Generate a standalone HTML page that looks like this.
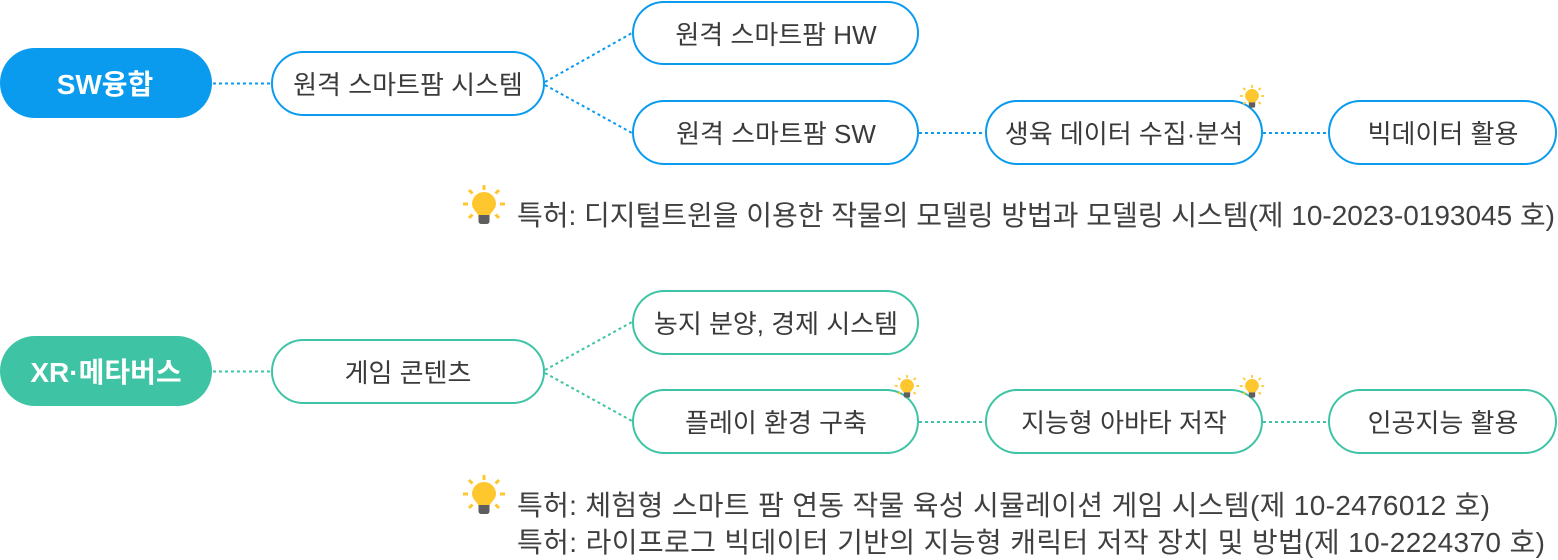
<!DOCTYPE html>
<html lang="ko">
<head>
<meta charset="utf-8">
<style>
  html, body { margin: 0; padding: 0; background: #ffffff; }
  body { width: 1558px; height: 560px; overflow: hidden; }
  svg { display: block; }
  .t { font-family: "Liberation Sans", "Noto Sans CJK KR", sans-serif; fill: #3a3a3a; }
  .n { font-size: 26px; }
  .m { font-size: 28px; font-weight: bold; fill: #ffffff; }
  .p { font-size: 28px; fill: #404040; }
</style>
</head>
<body>
<svg width="1558" height="560" viewBox="0 0 1558 560" xmlns="http://www.w3.org/2000/svg">
  <defs>
    <g id="bulb">
      <g stroke="#ffc72e" stroke-width="3" stroke-linecap="butt">
        <line x1="0" y1="-19" x2="0" y2="-14"/>
        <line x1="-21" y1="0" x2="-16" y2="0"/>
        <line x1="16" y1="0" x2="21" y2="0"/>
        <line x1="-15" y1="-14" x2="-11.5" y2="-10.5"/>
        <line x1="15" y1="-14" x2="11.5" y2="-10.5"/>
        <line x1="-15" y1="14" x2="-11.5" y2="10.5"/>
        <line x1="15" y1="14" x2="11.5" y2="10.5"/>
      </g>
      <path d="M -12 0 A 12 12 0 1 1 12 0 C 12 5 7 8 6 11 L -6 11 C -7 8 -12 5 -12 0 Z" fill="#ffc72e"/>
      <path d="M -5.5 11 L 5.5 11 L 5.5 17 Q 5.5 20 2.5 20 L -2.5 20 Q -5.5 20 -5.5 17 Z" fill="#5e5e5e"/>
    </g>
  </defs>

  <!-- ================= SW section ================= -->
  <g stroke="#0a9bef" stroke-width="2" fill="none" stroke-dasharray="3 3">
    <line x1="213" y1="83.5" x2="271" y2="83.5"/>
    <line x1="545" y1="82" x2="632" y2="33"/>
    <line x1="545" y1="85" x2="632" y2="133"/>
    <line x1="919" y1="133" x2="985" y2="133"/>
    <line x1="1263" y1="133" x2="1328" y2="133"/>
  </g>

  <rect x="0" y="48" width="212" height="70" rx="35" fill="#0a9bef"/>
  <text class="t m" x="105" y="94" text-anchor="middle">SW융합</text>

  <g stroke="#0a9bef" stroke-width="2" fill="#ffffff">
    <rect x="272" y="52" width="272" height="63" rx="31.5"/>
    <rect x="633" y="2" width="285" height="62" rx="31"/>
    <rect x="633" y="101" width="285" height="63" rx="31.5"/>
    <rect x="986" y="101" width="276" height="63" rx="31.5"/>
    <rect x="1329" y="101" width="227" height="63" rx="31.5"/>
  </g>

  <text class="t n" x="408" y="94" text-anchor="middle">원격 스마트팜 시스템</text>
  <text class="t n" x="776" y="44" text-anchor="middle">원격 스마트팜 HW</text>
  <text class="t n" x="776" y="143" text-anchor="middle">원격 스마트팜 SW</text>
  <text class="t n" x="1124" y="143" text-anchor="middle">생육 데이터 수집·분석</text>
  <text class="t n" x="1443" y="143" text-anchor="middle">빅데이터 활용</text>

  <use href="#bulb" transform="translate(1252,96) scale(0.58)"/>

  <use href="#bulb" transform="translate(484,204)"/>
  <text class="t p" x="517" y="225" textLength="1038" lengthAdjust="spacing">특허: 디지털트윈을 이용한 작물의 모델링 방법과 모델링 시스템(제 10-2023-0193045 호)</text>

  <!-- ================= XR section ================= -->
  <g stroke="#3ec4a4" stroke-width="2" fill="none" stroke-dasharray="3 3">
    <line x1="213" y1="371.5" x2="271" y2="371.5"/>
    <line x1="545" y1="370" x2="632" y2="322"/>
    <line x1="545" y1="373" x2="632" y2="421"/>
    <line x1="919" y1="422" x2="985" y2="422"/>
    <line x1="1263" y1="422" x2="1328" y2="422"/>
  </g>

  <rect x="0" y="336" width="212" height="70" rx="35" fill="#3ec4a4"/>
  <text class="t m" x="106" y="382" text-anchor="middle">XR·메타버스</text>

  <g stroke="#3ec4a4" stroke-width="2" fill="#ffffff">
    <rect x="272" y="340" width="272" height="63" rx="31.5"/>
    <rect x="633" y="291" width="285" height="63" rx="31.5"/>
    <rect x="633" y="390" width="285" height="63" rx="31.5"/>
    <rect x="986" y="390" width="276" height="63" rx="31.5"/>
    <rect x="1329" y="390" width="227" height="63" rx="31.5"/>
  </g>

  <text class="t n" x="408" y="382" text-anchor="middle">게임 콘텐츠</text>
  <text class="t n" x="776" y="333" text-anchor="middle">농지 분양, 경제 시스템</text>
  <text class="t n" x="776" y="432" text-anchor="middle">플레이 환경 구축</text>
  <text class="t n" x="1124" y="432" text-anchor="middle">지능형 아바타 저작</text>
  <text class="t n" x="1443" y="432" text-anchor="middle">인공지능 활용</text>

  <use href="#bulb" transform="translate(907,386) scale(0.58)"/>
  <use href="#bulb" transform="translate(1252,386) scale(0.58)"/>

  <use href="#bulb" transform="translate(484,494)"/>
  <text class="t p" x="517" y="515" textLength="973" lengthAdjust="spacing">특허: 체험형 스마트 팜 연동 작물 육성 시뮬레이션 게임 시스템(제 10-2476012 호)</text>
  <text class="t p" x="517" y="552" textLength="1028" lengthAdjust="spacing">특허: 라이프로그 빅데이터 기반의 지능형 캐릭터 저작 장치 및 방법(제 10-2224370 호)</text>
</svg>
</body>
</html>
